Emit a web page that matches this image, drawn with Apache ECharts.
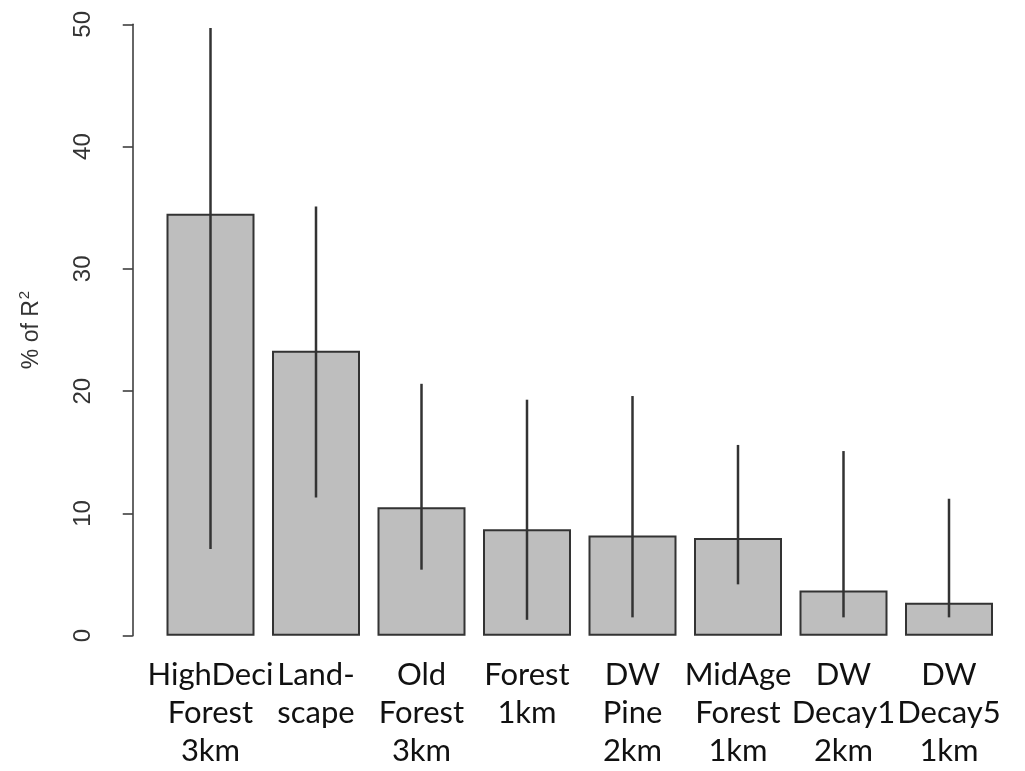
<!DOCTYPE html>
<html>
<head>
<meta charset="utf-8">
<script src="https://cdn.jsdelivr.net/npm/echarts@6/dist/echarts.min.js"></script>
<style>
html,body{margin:0;padding:0;background:#fff;}
#chart{width:1025px;height:771px;}
</style>
</head>
<body>
<div id="chart"></div>
<script>
const categories = [
  "HighDeci\nForest\n3km",
  "Land-\nscape",
  "Old\nForest\n3km",
  "Forest\n1km",
  "DW\nPine\n2km",
  "MidAge\nForest\n1km",
  "DW\nDecay1\n2km",
  "DW\nDecay5\n1km"
];
const values = [34.5, 23.3, 10.5, 8.7, 8.2, 8.0, 3.7, 2.7];
const lower  = [7.1, 11.3, 5.4, 1.3, 1.5, 4.2, 1.5, 1.5];
const upper  = [49.7, 35.1, 20.6, 19.3, 19.6, 15.6, 15.1, 11.2];
const yTicks = [0, 10, 20, 30, 40, 50];

const chart = echarts.init(document.getElementById('chart'), null, {renderer: 'canvas'});
const errData = categories.map((c, i) => [i, lower[i], upper[i]]);

chart.setOption({
  animation: false,
  backgroundColor: '#ffffff',
  grid: {left: 157.75, right: 23.25, top: 24.3, bottom: 135.3, containLabel: false},
  xAxis: {
    type: 'category',
    data: categories,
    axisLine: {show: false},
    axisTick: {show: false},
    axisLabel: {
      interval: 0,
      margin: 20,
      fontFamily: 'Lato',
      fontSize: 31,
      lineHeight: 38,
      color: '#111'
    }
  },
  yAxis: {
    type: 'value',
    min: yTicks[0],
    max: yTicks[yTicks.length - 1],
    interval: 10,
    offset: 25,
    splitLine: {show: false},
    axisLine: {show: true, lineStyle: {color: '#333', width: 1.5}},
    axisTick: {show: true, length: 10, lineStyle: {color: '#333', width: 1.5}},
    axisLabel: {
      rotate: 90,
      margin: 37,
      fontFamily: 'Liberation Sans',
      fontSize: 24,
      color: '#333'
    },
    name: '% of R{sup|2}',
    nameLocation: 'middle',
    nameGap: 88,
    nameTextStyle: {
      fontFamily: 'Liberation Sans',
      fontSize: 23,
      color: '#333',
      rich: {
        sup: {fontFamily: 'Liberation Sans', fontSize: 15, color: '#333', verticalAlign: 'top', padding: [0, 0, 12, 1]}
      }
    }
  },
  series: [
    {
      type: 'bar',
      data: values,
      barWidth: 88,
      itemStyle: {color: '#bebebe', borderColor: '#333', borderWidth: 2}
    },
    {
      type: 'custom',
      data: errData,
      z: 10,
      renderItem: function (params, api) {
        const i = api.value(0);
        const p1 = api.coord([i, api.value(1)]);
        const p2 = api.coord([i, api.value(2)]);
        return {
          type: 'line',
          shape: {x1: p1[0], y1: p1[1], x2: p2[0], y2: p2[1]},
          style: {stroke: '#333', lineWidth: 2.5}
        };
      }
    }
  ]
});
</script>
</body>
</html>
